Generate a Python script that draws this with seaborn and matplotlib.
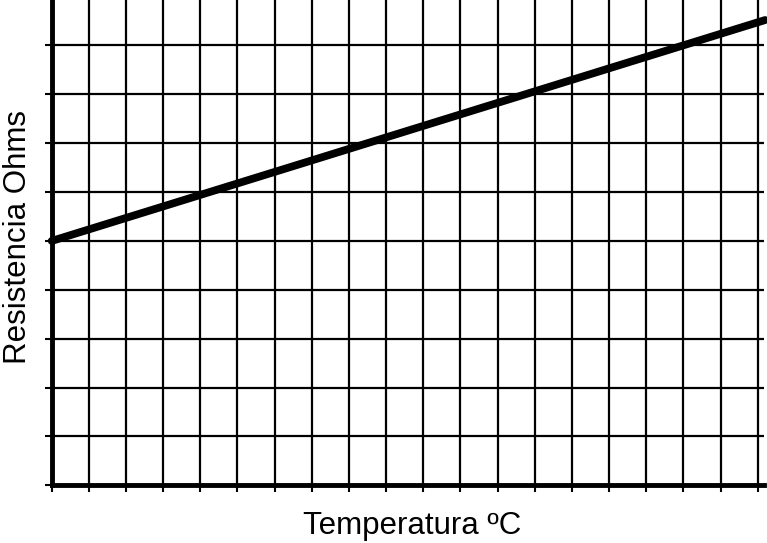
import pandas as pd
import matplotlib
matplotlib.use("Agg")
import matplotlib.pyplot as plt
import seaborn as sns

# datos (unidades de cuadrícula)
temperatura = [0.0, 19.2]
resistencia = [5.0, 9.52]
x_ticks = list(range(0, 20))
y_ticks = list(range(0, 10))

sns.set_style("white")
plt.rcParams['font.family'] = ['Liberation Sans', 'DejaVu Sans']

df = pd.DataFrame({'temp': temperatura, 'res': resistencia})

fig = plt.figure(figsize=(7.67, 5.43), dpi=100)
ax = fig.add_axes([51.7 / 767, (543 - 485.3) / 543, (764 - 51.7) / 767, 485.3 / 543])

sns.lineplot(data=df, x='temp', y='res', color='black', linewidth=5.6,
             solid_capstyle='round', ax=ax, zorder=5, clip_on=False)

ax.set_xlim(0, 19.17)
ax.set_ylim(0, 9.93)
ax.set_xticks(x_ticks)
ax.set_yticks(y_ticks)
ax.set_xticklabels([])
ax.set_yticklabels([])
ax.grid(True, color='black', linewidth=1.6)
ax.tick_params(axis='both', direction='out', length=5, width=1.5, color='black',
               bottom=True, left=True)

for s in ['top', 'right']:
    ax.spines[s].set_visible(False)
for s in ['left', 'bottom']:
    ax.spines[s].set_linewidth(3.5)
    ax.spines[s].set_color('black')
    ax.spines[s].set_zorder(6)

ax.set_xlabel('Temperatura ºC', fontsize=22.5, color='black', va='baseline')
ax.set_ylabel('Resistencia Ohms', fontsize=22.5, color='black', va='baseline')
ax.xaxis.set_label_coords(0.506, -0.101)
ax.yaxis.set_label_coords(-0.036, 0.512)

fig.savefig('out.png', dpi=100)
plt.close(fig)
